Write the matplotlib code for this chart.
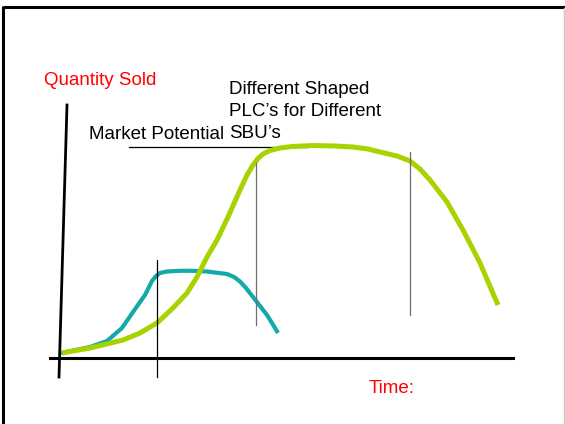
import matplotlib
matplotlib.use('Agg')
import matplotlib.pyplot as plt

plt.rcParams['font.family'] = ['Liberation Sans', 'DejaVu Sans']

# curves in picture units (time to the right, quantity downward)
small_sbu_time = [61, 90, 107, 122, 133, 145, 152, 156, 160, 167, 180, 193, 207, 227,
                  234, 240, 246, 253, 260, 267, 272, 278]
small_sbu_qty = [353, 347, 341, 328, 312, 295, 281, 276, 273, 271.5, 270.8, 270.8, 271.5, 274,
                 277, 281.5, 288, 297, 306, 315, 323, 333]

big_sbu_time = [62, 90, 123, 140, 157, 173, 187, 197, 207, 217, 228, 240, 247, 253, 258,
                263, 270, 280, 292, 313, 335, 353, 368, 380, 397, 410, 420, 430, 447,
                463, 480, 498]
big_sbu_qty = [353, 348, 340, 333, 323, 308, 293, 277, 257, 240, 217, 190, 175, 165, 158.5,
               154, 150.5, 148, 146.5, 145.5, 146, 147, 149, 152, 156, 161, 169, 180, 202,
               230, 263, 305]

# stage markers: x, top, bottom, colour
stage_x = [157, 256, 410]
stage_top = [260, 163, 152]
stage_bottom = [377, 325, 315]
stage_colors = ['black', '#6e6e6e', '#6e6e6e']

label_lines = ['Different Shaped', 'PLC’s for Different', 'SBU’s']

fig = plt.figure(figsize=(5.65, 4.24), dpi=100)
ax = fig.add_axes([0, 0, 1, 1])
ax.set_xlim(0, 565)
ax.set_ylim(424, 0)
ax.axis('off')

# slide frame
ax.plot([3, 565], [7, 7], color='black', lw=2.2, solid_capstyle='butt')
ax.plot([3, 3], [6, 424], color='black', lw=2.2, solid_capstyle='butt')
ax.plot([563.5, 563.5], [8, 424], color='#c8c8c8', lw=1)

# axes
ax.plot([67, 59], [105, 377], color='black', lw=2)
ax.plot([50, 513], [358, 358], color='black', lw=2.2)

# market potential
ax.plot([129, 308], [147, 147], color='black', lw=0.9)

ax.plot(small_sbu_time, small_sbu_qty, color='#12a9a9', lw=3,
        solid_capstyle='butt', solid_joinstyle='round')
ax.plot(big_sbu_time, big_sbu_qty, color='#a9d300', lw=3.6,
        solid_capstyle='butt', solid_joinstyle='round')

for x, t, b, c in zip(stage_x, stage_top, stage_bottom, stage_colors):
    ax.plot([x, x], [t, b], color=c, lw=0.9, zorder=5)

fs = 13.5
ax.text(44, 85, 'Quantity Sold', color='red', fontsize=fs, va='baseline')
ax.text(89, 139, 'Market Potential', color='black', fontsize=fs, va='baseline')
for i, line in enumerate(label_lines):
    ax.text(229, 94 + 22 * i, line, color='black', fontsize=fs, va='baseline')
ax.text(369, 393, 'Time:', color='red', fontsize=fs, va='baseline')

fig.savefig('out.png', dpi=100)
